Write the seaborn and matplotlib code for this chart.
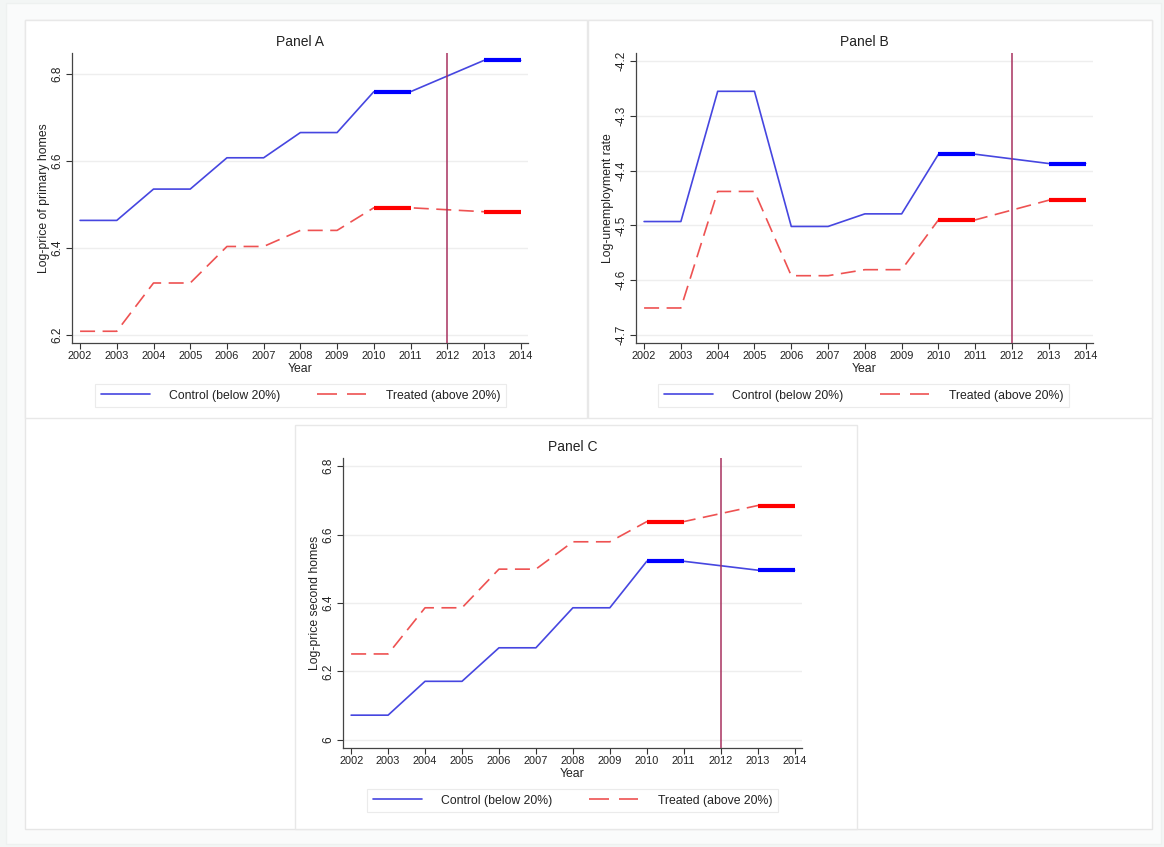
import numpy as np
import pandas as pd
import matplotlib
matplotlib.use("Agg")
import matplotlib.pyplot as plt
from matplotlib.patches import Rectangle
import seaborn as sns

# ---------------- data ----------------
years = [2002, 2003, 2004, 2005, 2006, 2007, 2008, 2009, 2010, 2011, 2013, 2014]
tick_years = list(range(2002, 2015))

control_a = [6.463, 6.463, 6.535, 6.535, 6.607, 6.607, 6.665, 6.665, 6.759, 6.759, 6.831, 6.831]
treated_a = [6.208, 6.208, 6.319, 6.319, 6.403, 6.403, 6.440, 6.440, 6.492, 6.492, 6.483, 6.483]

control_b = [-4.493, -4.493, -4.255, -4.255, -4.502, -4.502, -4.479, -4.479, -4.370, -4.370, -4.387, -4.387]
treated_b = [-4.651, -4.651, -4.438, -4.438, -4.592, -4.592, -4.581, -4.581, -4.490, -4.490, -4.454, -4.454]

control_c = [6.072, 6.072, 6.171, 6.171, 6.269, 6.269, 6.386, 6.386, 6.522, 6.522, 6.496, 6.496]
treated_c = [6.251, 6.251, 6.386, 6.386, 6.499, 6.499, 6.579, 6.579, 6.638, 6.638, 6.685, 6.685]

yticks_a = [6.2, 6.4, 6.6, 6.8]
yticks_b = [-4.7, -4.6, -4.5, -4.4, -4.3, -4.2]
yticks_c = [6.0, 6.2, 6.4, 6.6, 6.8]
ytick_labels_a = ["6.2", "6.4", "6.6", "6.8"]
ytick_labels_b = ["-4.7", "-4.6", "-4.5", "-4.4", "-4.3", "-4.2"]
ytick_labels_c = ["6", "6.2", "6.4", "6.6", "6.8"]

labels = ["Control (below 20%)", "Treated (above 20%)"]
titles = ["Panel A", "Panel B", "Panel C"]
ylabels = ["Log-price of primary homes", "Log-unemployment rate", "Log-price second homes"]
policy_year = 2012
thick_groups = [[2010, 2011], [2013, 2014]]

# ---------------- style ----------------
sns.set_theme(style="white")
plt.rcParams["font.family"] = ["Liberation Sans", "DejaVu Sans"]

W, H = 1164, 847
fig = plt.figure(figsize=(W / 100, H / 100), dpi=100)
fig.patch.set_facecolor("#f3f6f5")

def frect(x0, y0, x1, y1, fc, ec, z, lw=1.0):
    fig.patches.append(Rectangle((x0 / W, 1 - y1 / H), (x1 - x0) / W, (y1 - y0) / H,
                                 transform=fig.transFigure, facecolor=fc, edgecolor=ec,
                                 linewidth=lw, zorder=z))

frect(6, 3, 1161, 844, "#fafbfb", "#eef1f0", -5)
frect(25, 20, 1152, 829, "white", "#e6e6e6", -4)
frect(25, 20, 587, 418, "white", "#e8e8e8", -3)
frect(588, 20, 1152, 418, "white", "#e8e8e8", -3)
frect(295, 425, 857, 829, "white", "#e8e8e8", -3)

BLUE = "#4646e0"
BLUE_T = "#0000ff"
RED = "#ee5252"
RED_T = "#ff0000"
VLINE = "#a8325f"

panels = [
    dict(box=(72, 53, 528, 343), ctrl=control_a, trt=treated_a, ylim=(6.181, 6.848),
         yt=yticks_a, ytl=ytick_labels_a, leg=(99, 384, 502, 407)),
    dict(box=(636, 53, 1093, 343), ctrl=control_b, trt=treated_b, ylim=(-4.715, -4.185),
         yt=yticks_b, ytl=ytick_labels_b, leg=(662, 384, 1065, 407)),
    dict(box=(343, 458, 802, 748), ctrl=control_c, trt=treated_c, ylim=(5.976, 6.824),
         yt=yticks_c, ytl=ytick_labels_c, leg=(370, 789, 775, 812)),
]

for i, p in enumerate(panels):
    x0, y0, x1, y1 = p["box"]
    ax = fig.add_axes([x0 / W, 1 - y1 / H, (x1 - x0) / W, (y1 - y0) / H])
    ax.set_facecolor("none")
    df = pd.DataFrame({"Year": years, "ctrl": p["ctrl"], "trt": p["trt"]})

    for v in p["yt"]:
        ax.axhline(v, color="#eeeeee", lw=1.0, zorder=0)

    sns.lineplot(data=df, x="Year", y="ctrl", ax=ax, color=BLUE, lw=1.2,
                 label=labels[0], zorder=3)
    sns.lineplot(data=df, x="Year", y="trt", ax=ax, color=RED, lw=1.2,
                 label=labels[1], zorder=3)
    ax.lines[-1].set_dashes((9, 4.5))
    for g in thick_groups:
        sub = df[df["Year"].isin(g)]
        sns.lineplot(data=sub, x="Year", y="ctrl", ax=ax, color=BLUE_T, lw=3.0,
                     zorder=4, legend=False, solid_capstyle="butt")
        sns.lineplot(data=sub, x="Year", y="trt", ax=ax, color=RED_T, lw=3.0,
                     zorder=4, legend=False, solid_capstyle="butt")

    ax.axvline(policy_year, color=VLINE, lw=1.1, zorder=5)

    ax.set_xlim(2001.78, 2014.2)
    ax.set_ylim(*p["ylim"])
    ax.set_xticks(tick_years)
    ax.set_xticklabels([str(t) for t in tick_years], fontsize=7.9)
    ax.set_yticks(p["yt"])
    ax.set_yticklabels(p["ytl"], fontsize=8.5, rotation=90, va="center")
    ax.tick_params(axis="both", which="major", direction="out", length=4, width=0.8,
                   color="#333333", labelcolor="#222222", bottom=True, left=True, pad=2)
    for s in ["top", "right"]:
        ax.spines[s].set_visible(False)
    for s in ["left", "bottom"]:
        ax.spines[s].set_color("#444444")
        ax.spines[s].set_linewidth(0.9)

    ax.set_title(titles[i], fontsize=10, color="#222222", pad=5)
    ax.set_xlabel("Year", fontsize=8.8, color="#222222", labelpad=1)
    ax.set_ylabel(ylabels[i], fontsize=8.8, color="#222222", labelpad=1)

    lx0, ly0, lx1, ly1 = p["leg"]
    h, l = ax.get_legend_handles_labels()
    leg = ax.legend(h[:2], l[:2], ncol=2, loc="center",
                    bbox_to_anchor=((lx0 + lx1) / 2 / W, 1 - (ly0 + ly1) / 2 / H),
                    bbox_transform=fig.transFigure, frameon=True, fancybox=False,
                    edgecolor="#e6e6e6", fontsize=8.8, handlelength=4.0,
                    handletextpad=1.6, columnspacing=3.0, borderpad=0.45)
    leg.get_frame().set_linewidth(0.8)
    leg.get_lines()[1].set_dashes((12, 6))
    for t in leg.get_texts():
        t.set_color("#222222")

fig.savefig("out.png", dpi=100, facecolor=fig.get_facecolor())
